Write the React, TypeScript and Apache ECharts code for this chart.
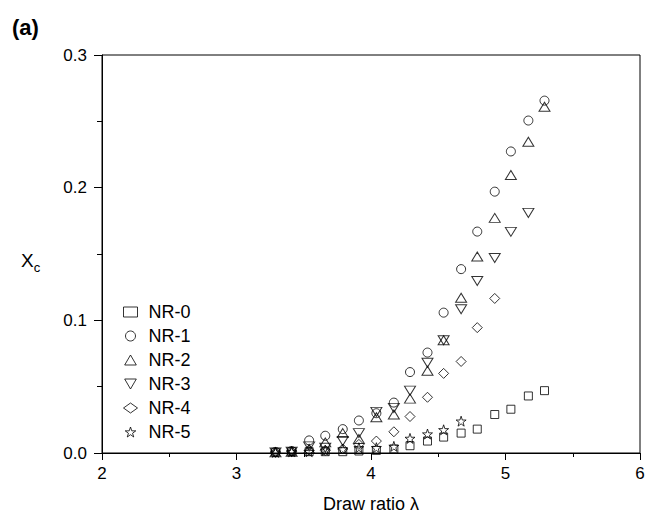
import React, { useEffect, useRef } from "react";
import * as echarts from "echarts";

const drawRatio = [3.29, 3.41, 3.54, 3.66, 3.79, 3.91, 4.04, 4.17, 4.29, 4.42, 4.54, 4.67, 4.79, 4.92, 5.04, 5.17, 5.29];

const nr0 = [0.0005, 0.001, 0.001, 0.001, 0.001, 0.0015, 0.002, 0.003, 0.0055, 0.009, 0.012, 0.015, 0.018, 0.029, 0.033, 0.043, 0.047];
const nr1 = [0.0008, 0.0015, 0.0095, 0.013, 0.018, 0.0245, 0.03, 0.038, 0.061, 0.0757, 0.1058, 0.1386, 0.1669, 0.197, 0.2273, 0.2506, 0.2656];
const nr2 = [0.0005, 0.001, 0.003, 0.008, 0.015, 0.0105, 0.027, 0.029, 0.041, 0.062, 0.085, 0.117, 0.1481, 0.1772, 0.2095, 0.2346, 0.261];
const nr3 = [0.0005, 0.001, 0.005, 0.004, 0.009, 0.015, 0.031, 0.034, 0.047, 0.068, 0.085, 0.1083, 0.1296, 0.147, 0.1667, 0.181];
const nr4 = [0.0005, 0.001, 0.002, 0.002, 0.003, 0.0065, 0.009, 0.016, 0.0275, 0.042, 0.06, 0.069, 0.0945, 0.1165];
const nr5 = [0.0005, 0.001, 0.001, 0.002, 0.003, 0.004, 0.004, 0.005, 0.011, 0.0143, 0.0175, 0.024];

const seriesNames = ["NR-0", "NR-1", "NR-2", "NR-3", "NR-4", "NR-5"];
const xTicks = [2, 3, 4, 5, 6];
const yTicks = [0, 0.1, 0.2, 0.3];

const STAR = "path://M50,0 L61.8,35.1 L98.1,35.1 L68.9,56.8 L79.4,91 L50,70 L20.6,91 L31.1,56.8 L1.9,35.1 L38.2,35.1 Z";
const TRI_DOWN = "path://M0,0 L100,0 L50,86 Z";
const TRI_UP = "path://M50,0 L100,86 L0,86 Z";

const FONT = "'Liberation Sans', Arial, sans-serif";

export default function App() {
  const ref = useRef<HTMLDivElement>(null);
  useEffect(() => {
    if (!ref.current) return;
    const chart = echarts.init(ref.current, undefined, { renderer: "svg" });
    const all = [nr0, nr1, nr2, nr3, nr4, nr5];
    const symbols = ["rect", "circle", TRI_UP, TRI_DOWN, "diamond", STAR];
    const sizes: any[] = [[8, 8], [9, 9], [11, 9], [11, 9], [10, 10], [10, 10]];
    const series = all.map((vals, i) => ({
      type: "scatter",
      name: seriesNames[i],
      data: vals.map((v, j) => [drawRatio[j], v]),
      symbol: symbols[i],
      symbolSize: sizes[i],
      itemStyle: { color: "rgba(0,0,0,0)", borderColor: "#000", borderWidth: 1 },
      emphasis: { disabled: true },
    }));
    chart.setOption({
      animation: false,
      backgroundColor: "#fff",
      textStyle: { fontFamily: FONT },
      grid: { left: 102, right: 8, top: 55, bottom: 64, show: true, borderColor: "#000", borderWidth: 1 },
      legend: {
        orient: "vertical",
        left: 118,
        top: 297,
        itemWidth: 14,
        itemHeight: 10,
        itemGap: 4,
        data: seriesNames,
        itemStyle: { color: "rgba(0,0,0,0)", borderColor: "#000", borderWidth: 1 },
        textStyle: { fontFamily: FONT, fontSize: 18, color: "#000", lineHeight: 20, padding: [0, 0, 0, 6] },
        selectedMode: false,
      },
      xAxis: {
        type: "value",
        min: xTicks[0],
        max: xTicks[xTicks.length - 1],
        interval: 1,
        name: "Draw ratio λ",
        nameLocation: "middle",
        nameGap: 42,
        nameTextStyle: { fontFamily: FONT, fontSize: 18, color: "#000" },
        axisLine: { show: true, onZero: false, lineStyle: { color: "#000", width: 1 } },
        axisTick: { show: true, length: 7, lineStyle: { color: "#000" } },
        minorTick: { show: true, splitNumber: 2, length: 4, lineStyle: { color: "#000" } },
        splitLine: { show: false },
        axisLabel: { fontFamily: FONT, fontSize: 17, color: "#000", margin: 12 },
      },
      yAxis: {
        type: "value",
        min: yTicks[0],
        max: yTicks[yTicks.length - 1],
        interval: 0.1,
        axisLine: { show: true, onZero: false, lineStyle: { color: "#000", width: 1 } },
        axisTick: { show: true, length: 8, lineStyle: { color: "#000" } },
        minorTick: { show: true, splitNumber: 2, length: 5, lineStyle: { color: "#000" } },
        splitLine: { show: false },
        axisLabel: { fontFamily: FONT, fontSize: 17, color: "#000", margin: 15, formatter: (v: number) => v.toFixed(1) },
      },
      graphic: [
        {
          type: "text",
          left: 12,
          top: 16,
          style: { text: "(a)", fontFamily: FONT, fontSize: 22, fontWeight: "bold", fill: "#000" },
        },
        {
          type: "text",
          left: 21,
          top: 251,
          style: {
            text: "{x|X}{s|c}",
            rich: {
              x: { fontFamily: FONT, fontSize: 19, fill: "#000", verticalAlign: "bottom" },
              s: { fontFamily: FONT, fontSize: 13, fill: "#000", verticalAlign: "bottom", padding: [0, 0, -4, 0] },
            },
          },
        },
      ],
      series,
    });
    return () => chart.dispose();
  }, []);
  return <div ref={ref} style={{ width: 648, height: 518, position: "absolute", left: 0, top: 0 }} />;
}
